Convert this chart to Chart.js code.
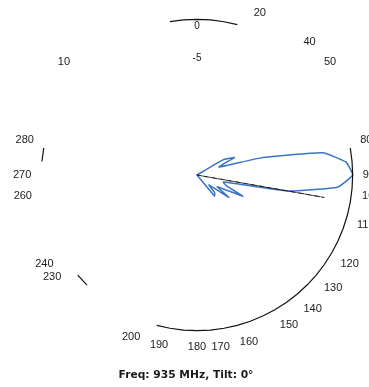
<!DOCTYPE html>
<html>
<head>
<meta charset="utf-8">
<script src="https://cdn.jsdelivr.net/npm/chart.js@4/dist/chart.umd.min.js"></script>
<style>
html,body{margin:0;padding:0;background:#fff;overflow:hidden;width:369px;height:387px;position:relative;}
#c{position:absolute;left:0;top:-20px;display:block;}
#title{position:absolute;left:0;width:372px;top:368px;text-align:center;font:bold 10.7px 'DejaVu Sans',sans-serif;line-height:13px;color:#1a1a1a;white-space:nowrap;}
</style>
</head>
<body>
<canvas id="c" width="390" height="390"></canvas>
<div id="title"></div>
<script>
// Azimuth angles (degrees, clockwise from top), every 5°
const angles = [0,5,10,15,20,25,30,35,40,45,50,55,60,65,70,75,80,85,90,95,100,105,110,115,120,125,130,135,140,145,150,155,160,165,170,175,180,185,190,195,200,205,210,215,220,225,230,235,240,245,250,255,260,265,270,275,280,285,290,295,300,305,310,315,320,325,330,335,340,345,350,355];

// Measured pattern (dB, relative), blue trace
const patternDb = [-20,-20,-20,-20,-20,-20,-20,-20,-20,-20,-20,-20,-16,-14.7,-17,-11.5,-3.6,-0.8,0,-1.9,-8.2,-16.5,-16,-13.5,-17,-15,-18,-16.8,-16.5,-20,-20,-20,-20,-20,-20,-20,-20,-20,-20,-20,-20,-20,-20,-20,-20,-20,-20,-20,-20,-20,-20,-20,-20,-20,-20,-20,-20,-20,-20,-20,-20,-20,-20,-20,-20,-20,-20,-20,-20,-20,-20,-20];

// Dashed black reference line (beamwidth marker)
const markerDb = [-20,-20,-20,-20,-20,-20,-20,-20,-20,-20,-20,-20,-20,-20,-20,-20,-20,-20,-20,-20,-3.4,-20,-20,-20,-20,-20,-20,-20,-20,-20,-20,-20,-20,-20,-20,-20,-20,-20,-20,-20,-20,-20,-20,-20,-20,-20,-20,-20,-20,-20,-20,-20,-20,-20,-20,-20,-20,-20,-20,-20,-20,-20,-20,-20,-20,-20,-20,-20,-20,-20,-20,-20];

// Visible portions of the 0 dB outer ring (null = faded in scan)
const outerRingDb = [0,0,0,0,null,null,null,null,null,null,null,null,null,null,null,null,0,0,0,0,0,0,0,0,0,0,0,0,0,0,0,0,0,0,0,0,0,0,0,0,null,null,null,null,null,0,0,null,null,null,null,null,null,null,null,0,0,null,null,null,null,null,null,null,null,null,null,null,null,null,0,0];

// Angle labels as printed on the scan, keyed by the azimuth slot where each appears
const angleLabelText = {20:'20',40:'40',50:'50',80:'80',90:'90',95:'100',105:'110',120:'120',130:'130',140:'140',150:'150',165:'160',175:'170',180:'180',190:'190',200:'200',235:'230',240:'240',265:'260',270:'270',280:'280',310:'10'};

// Radial tick labels shown (dB)
const radialTickShown = [0,-5];

const titleText = 'Freq: 935 MHz, Tilt: 0°';
document.getElementById('title').textContent = titleText;

new Chart(document.getElementById('c'), {
  type: 'radar',
  data: {
    labels: angles.map(String),
    datasets: [
      {
        data: outerRingDb,
        borderColor: '#111',
        borderWidth: 1.2,
        pointRadius: 0,
        fill: false,
        spanGaps: false,
        tension: 0
      },
      {
        data: markerDb,
        borderColor: '#222',
        borderWidth: 1,
        borderDash: [5,3],
        pointRadius: 0,
        fill: false,
        tension: 0
      },
      {
        data: patternDb,
        borderColor: '#3a74c4',
        borderWidth: 1.5,
        pointRadius: 0,
        fill: false,
        tension: 0.12
      }
    ]
  },
  options: {
    responsive: false,
    animation: false,
    devicePixelRatio: 1,
    layout: { padding: { left: 13, right: 9, top: 11, bottom: 11 } },
    plugins: {
      legend: { display: false },
      tooltip: { enabled: false },
      title: { display: false }
    },
    scales: {
      r: {
        min: -20,
        max: 0,
        startAngle: 0,
        angleLines: { display: false },
        grid: { display: false },
        ticks: {
          stepSize: 5,
          color: '#222',
          backdropColor: 'rgba(0,0,0,0)',
          font: { family: 'Liberation Sans', size: 10, lineHeight: 0.7 },
          callback: v => radialTickShown.includes(v) ? (v === 0 ? ['', String(v)] : String(v)) : ''
        },
        pointLabels: {
          display: true,
          color: '#222',
          padding: 3,
          font: { family: 'Liberation Sans', size: 11 },
          callback: (label) => angleLabelText[label] || ''
        }
      }
    }
  }
});
</script>
</body>
</html>
